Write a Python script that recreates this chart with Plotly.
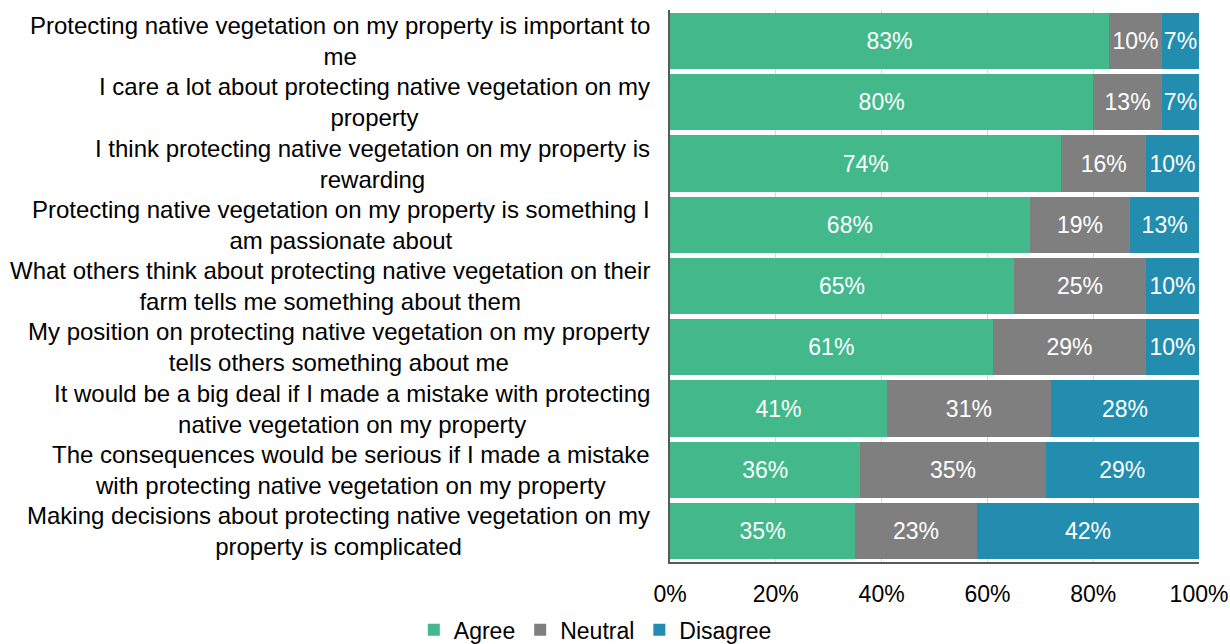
import plotly.graph_objects as go

statements = [
    "Protecting native vegetation on my property is important to<br>me",
    "I care a lot about protecting native vegetation on my<br>property",
    "I think protecting native vegetation on my property is<br>rewarding",
    "Protecting native vegetation on my property is something I<br>am passionate about",
    "What others think about protecting native vegetation on their<br>farm tells me something about them",
    "My position on protecting native vegetation on my property<br>tells others something about me",
    "It would be a big deal if I made a mistake with protecting<br>native vegetation on my property",
    "The consequences would be serious if I made a mistake<br>with protecting native vegetation on my property",
    "Making decisions about protecting native vegetation on my<br>property is complicated",
]
agree = [83, 80, 74, 68, 65, 61, 41, 36, 35]
neutral = [10, 13, 16, 19, 25, 29, 31, 35, 23]
disagree = [7, 7, 10, 13, 10, 10, 28, 29, 42]
tick_values = [0, 20, 40, 60, 80, 100]
tick_labels = ["0%", "20%", "40%", "60%", "80%", "100%"]

series = [
    ("Agree", agree, "#43B98B"),
    ("Neutral", neutral, "#7F7F7F"),
    ("Disagree", disagree, "#238DB0"),
]

FONT = "Liberation Sans, Arial, sans-serif"
FS = 23
LABEL_FS = 24
idx = list(range(len(statements)))

fig = go.Figure()
for name, vals, color in series:
    fig.add_trace(go.Bar(
        name=name,
        y=idx,
        x=vals,
        orientation="h",
        marker=dict(color=color, line=dict(width=0)),
        text=[f"{v}%" for v in vals],
        textposition="inside",
        insidetextanchor="middle",
        textangle=0,
        constraintext="none",
        textfont=dict(color="white", size=FS, family=FONT),
        hoverinfo="skip",
    ))

# Category labels: centred multi-line text, right-aligned against the axis
for i, s in zip(idx, statements):
    fig.add_annotation(
        x=0, xref="paper", y=i, yref="y",
        text=s, showarrow=False,
        xanchor="right", yanchor="middle", align="center",
        xshift=-18,
        font=dict(size=LABEL_FS, color="#000000", family=FONT),
    )

fig.update_layout(
    barmode="stack",
    bargap=0.085,
    width=1230, height=644,
    margin=dict(l=670, r=31, t=10, b=82, autoexpand=False),
    plot_bgcolor="white",
    paper_bgcolor="white",
    font=dict(family=FONT, size=FS, color="#000000"),
    legend=dict(
        orientation="h",
        traceorder="normal",
        x=0.484, xref="container", xanchor="center",
        y=0.022, yref="container", yanchor="middle",
        font=dict(size=FS, family=FONT),
        itemwidth=30,
        itemsizing="constant",
    ),
    showlegend=True,
)
fig.update_xaxes(
    range=[0, 100],
    tickvals=tick_values,
    ticktext=tick_labels,
    showgrid=True, gridcolor="#D9D9D9", gridwidth=1,
    showline=True, linecolor="#595959", linewidth=2,
    ticks="",
    ticklabelstandoff=10,
    tickfont=dict(size=FS, family=FONT),
    zeroline=False,
    automargin=False,
    fixedrange=True,
)
fig.update_yaxes(
    autorange="reversed",
    showticklabels=False,
    showgrid=False,
    showline=True, linecolor="#595959", linewidth=2,
    zeroline=False,
    automargin=False,
    fixedrange=True,
)

fig.write_html("out.html")
